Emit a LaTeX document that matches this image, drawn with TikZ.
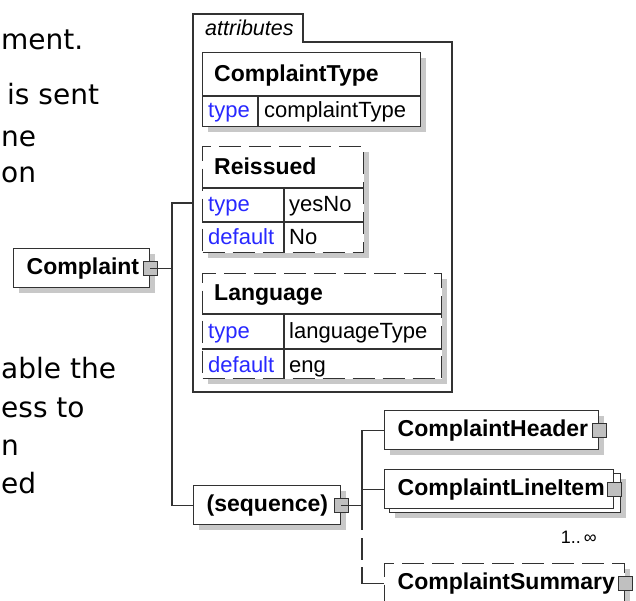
\documentclass[tikz,border=0pt]{standalone}
\usepackage{fontspec}
\setmainfont{Liberation Sans}
\newfontfamily\notefont{DejaVu Sans}
\usetikzlibrary{shadows}
\definecolor{linec}{RGB}{50,50,50}
\definecolor{keyblue}{RGB}{40,40,255}
\definecolor{shadowc}{RGB}{200,200,200}
\definecolor{expc}{RGB}{192,192,192}

\begin{document}
\begin{tikzpicture}[x=1pt,y=-1pt]

      \tikzset{elem/.style = {draw=linec, fill=white, line width=1.4pt, anchor=north west, inner xsep=13pt, inner ysep=0pt, align=left, minimum height=39pt, font=\fontsize{23}{26}\selectfont\bfseries}}
      \tikzset{boxshadow/.style = {drop shadow={shadow xshift=5pt, shadow yshift=-5pt, fill=shadowc, opacity=1}}}
      \tikzset{attrbox/.style = {draw=linec, fill=white, line width=1.4pt, anchor=north west, inner sep=0pt, boxshadow}}
      \tikzset{optional/.style = {dash pattern=on 22pt off 8pt}}
      \tikzset{expander/.style = {draw=linec, fill=expc, line width=1.2pt, minimum size=14pt, inner sep=0pt}}
      \tikzset{link/.style = {draw=linec, line width=1.4pt}}
      \tikzset{headtxt/.style = {anchor=base west, inner sep=0pt, font=\fontsize{23}{26}\selectfont\bfseries}}
      \tikzset{keytxt/.style = {anchor=base west, inner sep=0pt, text=keyblue, font=\fontsize{22}{26}\selectfont}}
      \tikzset{valtxt/.style = {anchor=base west, inner sep=0pt, font=\fontsize{22}{26}\selectfont}}
      \tikzset{note/.style = {anchor=base west, inner sep=0pt, font=\notefont\fontsize{28}{34}\selectfont}}

      \useasboundingbox (0,0) rectangle (636,601);
      \clip (0,0) rectangle (636,601);

      % text on the left
      \node[note] (note1) at (1,50)  {ment.};
      \node[note] (note2) at (7,105) {is sent};
      \node[note] (note3) at (1,147) {ne};
      \node[note] (note4) at (1,183) {on};
      \node[note] (note5) at (1,378) {able the};
      \node[note] (note6) at (1,417) {ess to};
      \node[note] (note7) at (1,455) {n};
      \node[note] (note8) at (1,493) {ed};

      % connector points
      \coordinate (attr)    at (193,203);
      \coordinate (spine)   at (172,300);
      \coordinate (busMid)  at (362,530);
      \coordinate (busLow)  at (362,567);

      % attribute group
      \draw[link] (193,392) -- (193,14) -- (303,14) -- (303,42) -- (452,42) -- (452,392) -- cycle;
      \node[anchor=base west, inner sep=0pt, font=\fontsize{21.5}{24}\selectfont\itshape] (attrTab) at (205,36) {attributes};

      \node[attrbox, minimum width=218pt, minimum height=74pt] (ctype) at (202,52) {};
      \draw[link] ([yshift=-44pt]ctype.north west) -- ([yshift=-44pt]ctype.north east);
      \draw[link] ([xshift=56pt,yshift=-44pt]ctype.north west) -- ([xshift=56pt]ctype.south west);
      \node[headtxt] (ctypeName) at (214,82)  {ComplaintType};
      \node[keytxt]  (ctypeKey)  at (208,118) {type};
      \node[valtxt]  (ctypeVal)  at (264,118) {complaintType};

      \node[attrbox, optional, minimum width=161pt, minimum height=106pt] (reiss) at (202,146) {};
      \draw[link] ([yshift=-42pt]reiss.north west) -- ([yshift=-42pt]reiss.north east);
      \draw[link] ([yshift=-76pt]reiss.north west) -- ([yshift=-76pt]reiss.north east);
      \draw[link] ([xshift=82pt,yshift=-42pt]reiss.north west) -- ([xshift=82pt]reiss.south west);
      \node[headtxt] (reissName) at (214,175) {Reissued};
      \node[keytxt]  (reissKey1) at (208,212) {type};
      \node[valtxt]  (reissVal1) at (289,212) {yesNo};
      \node[keytxt]  (reissKey2) at (208,245) {default};
      \node[valtxt]  (reissVal2) at (289,245) {No};

      \node[attrbox, optional, minimum width=239pt, minimum height=105pt] (lang) at (202,273) {};
      \draw[link] ([yshift=-41pt]lang.north west) -- ([yshift=-41pt]lang.north east);
      \draw[link] ([yshift=-76pt]lang.north west) -- ([yshift=-76pt]lang.north east);
      \draw[link] ([xshift=82pt,yshift=-41pt]lang.north west) -- ([xshift=82pt]lang.south west);
      \node[headtxt] (langName) at (214,300) {Language};
      \node[keytxt]  (langKey1) at (208,338) {type};
      \node[valtxt]  (langVal1) at (289,338) {languageType};
      \node[keytxt]  (langKey2) at (208,372) {default};
      \node[valtxt]  (langVal2) at (289,372) {eng};

      % elements
      \node[elem, boxshadow, text width=110pt] (complaint) at (13,248)  {Complaint};
      \node[elem, boxshadow, text width=121pt] (seq)       at (193,485) {(sequence)};
      \node[elem, boxshadow, text width=188pt] (hdr)       at (384,410) {ComplaintHeader};
      \node[elem, boxshadow, minimum width=231pt] (itemsBack) at (389,473) {};
      \node[elem, text width=203pt]            (items)     at (384,469) {ComplaintLineItem};
      \node[elem, boxshadow, optional, text width=214pt] (summ) at (384,563) {ComplaintSummary};
      \node[anchor=base east, inner sep=0pt, font=\fontsize{18}{20}\selectfont] (itemsOcc) at (597,543) {1..\,∞};

      % edges
      \draw[link] (complaint.east) -- (complaint.east -| spine);
      \draw[link] (attr) -- (attr -| spine) |- (seq.west);
      \draw[link] (seq.east) -- (seq.east -| busMid);
      \draw[link] (hdr.west) -| (busMid);
      \draw[link] (items.west) -- (items.west -| busMid);
      \draw[link, optional, dash phase=22pt] (busMid) -- (busLow);
      \draw[link] (busLow) |- (summ.west);

      % expanders
      \node[expander] (complaintX) at (complaint.east) {};
      \node[expander] (seqX)       at (seq.east)       {};
      \node[expander] (hdrX)       at (hdr.east)       {};
      \node[expander] (itemsX)     at (items.east)     {};
      \node[expander] (summX)      at (summ.east)      {};
      \draw[link] (complaintX.center) -- (complaintX.east);
      \draw[link] (seqX.center) -- (seqX.east);
      \end{tikzpicture}
\end{document}
